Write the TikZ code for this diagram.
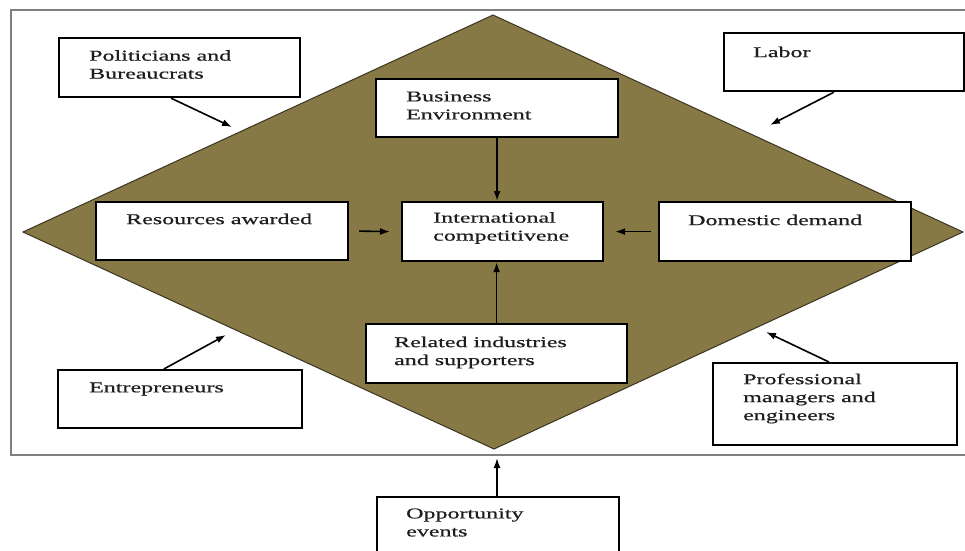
\documentclass[tikz,border=0pt]{standalone}
\usepackage{fontspec}
\setmainfont{Liberation Serif}[FakeStretch=1.6,FakeBold=0.6]
\usetikzlibrary{arrows.meta,calc}
\definecolor{olive}{HTML}{877946}
\definecolor{oliveedge}{HTML}{3A3420}
\definecolor{framegray}{HTML}{7F7F7F}
\definecolor{txtcol}{HTML}{1E1E1E}
\tikzset{
  box/.style={draw=black, line width=2.2pt, fill=white, inner sep=0pt, anchor=north west},
  txt/.style={anchor=west, inner sep=0pt, align=left, text=txtcol, font=\fontsize{15}{18}\selectfont},
  arr/.style={draw=black, line width=1.6pt, -{Latex[length=10pt,width=7pt]}},
}
\begin{document}
\begin{tikzpicture}[x=1pt,y=-1pt]
\useasboundingbox (0,0) rectangle (965,550);
% frame (open on the right, as in the reference)
\draw[framegray, line width=1.5pt] (975,10) -- (11,10) -- (11,455) -- (975,455);
% diamond
\coordinate (dt) at (493,15);
\coordinate (dl) at (23,232);
\coordinate (dr) at (963,232);
\coordinate (db) at (494,449);
\filldraw[fill=olive, draw=oliveedge, line width=1pt] (dt) -- (dr) -- (db) -- (dl) -- cycle;

% boxes
\node[box, minimum width=241pt, minimum height=59pt] (pol) at (58,37) {};
\node[box, minimum width=240pt, minimum height=58pt] (lab) at (723,32) {};
\node[box, minimum width=242pt, minimum height=58pt] (bus) at (375,78) {};
\node[box, minimum width=252pt, minimum height=58pt] (res) at (95,201) {};
\node[box, minimum width=201pt, minimum height=59pt] (intl) at (401,201) {};
\node[box, minimum width=252pt, minimum height=59pt] (dom) at (658,201) {};
\node[box, minimum width=261pt, minimum height=59pt] (rel) at (365,323) {};
\node[box, minimum width=244pt, minimum height=58pt] (ent) at (57,369) {};
\node[box, minimum width=244pt, minimum height=82pt] (prof) at (712,362) {};
\node[box, minimum width=242pt, minimum height=70pt] (opp) at (376,496) {};

% texts
\node[txt] (tpol) at (89,64.5) {Politicians and\\Bureaucrats};
\node[txt] (tlab) at (753,52) {Labor};
\node[txt] (tbus) at (406,105.5) {Business\\Environment};
\node[txt] (tres) at (126,219) {Resources awarded};
\node[txt] (tintl) at (433,228) {International\\competitivene};
\node[txt] (tdom) at (688,220) {Domestic demand};
\node[txt] (trel) at (394,352.5) {Related industries\\and supporters};
\node[txt] (tent) at (89,389) {Entrepreneurs};
\node[txt] (tprof) at (743,398.5) {Professional\\managers and\\engineers};
\node[txt] (topp) at (406,522.5) {Opportunity\\events};

% arrow targets on the diamond edge
\coordinate (apol) at (232,127);
\coordinate (alab) at (770,125);
\coordinate (aent) at (226,335);
\coordinate (aprof) at (766,332);
\coordinate (aopp) at (497,458);

% connectors
\draw[arr] ($(pol.south west)!0.465!(pol.south east)$) -- (apol);
\draw[arr] ($(lab.south west)!0.458!(lab.south east)$) -- (alab);
\draw[arr] ($(ent.north west)!0.434!(ent.north east)$) -- (aent);
\draw[arr] ($(prof.north west)!0.475!(prof.north east)$) -- (aprof);
\draw[arr] (opp.north -| aopp) -- (aopp);
\draw[arr] (bus.south) -- (bus.south |- intl.north);
\draw[arr] ([xshift=10pt]res.east) -- ([xshift=-11pt]intl.west);
\draw[arr] ([xshift=-7pt]dom.west) -- ([xshift=11pt]intl.east);
\draw[arr] (rel.north) -- (rel.north |- intl.south);
\end{tikzpicture}
\end{document}
